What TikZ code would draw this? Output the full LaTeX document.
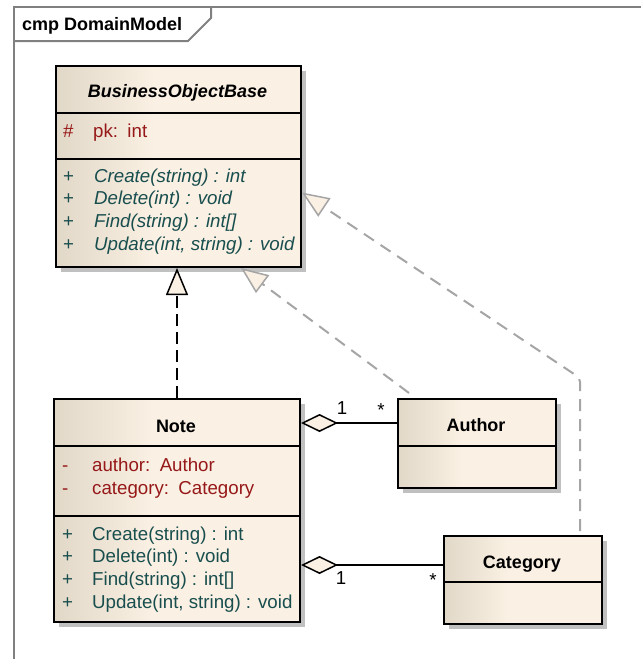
\documentclass[tikz,border=0pt]{standalone}
\usepackage{fontspec}
\setmainfont{Liberation Sans}
\usepackage{tikz}
\usetikzlibrary{arrows.meta, positioning, shadows}
\usepackage{xcolor}

\definecolor{beigedark}{RGB}{226,216,200}
\definecolor{beigelight}{RGB}{250,240,227}
\definecolor{attrred}{RGB}{150,24,24}
\definecolor{opteal}{RGB}{24,78,78}
\definecolor{framegray}{RGB}{128,128,128}
\definecolor{linkgray}{RGB}{165,165,165}
\definecolor{shadowgray}{RGB}{192,192,192}

\pgfdeclarehorizontalshading{classfill}{100bp}{color(0bp)=(beigedark); color(25bp)=(beigedark); color(45bp)=(beigelight); color(100bp)=(beigelight)}

\begin{document}
\begin{tikzpicture}[
        x=1pt, y=-1pt,
        every node/.style={font=\fontsize{18.7}{22}\selectfont, inner sep=0pt},
        classbox/.style={
          rectangle,
          draw=black,
          line width=2pt,
          shading=classfill,
          anchor=north west,
          drop shadow={shadow xshift=5pt, shadow yshift=-5pt, fill=shadowgray, opacity=1}
        },
        compline/.style={draw=black, line width=2pt},
        title/.style={anchor=base, font=\fontsize{18}{22}\selectfont\bfseries},
        attr/.style={anchor=base west, text=attrred},
        oper/.style={anchor=base west, text=opteal},
        mult/.style={anchor=base},
        realize/.style={
          draw=black,
          line width=2pt,
          dash pattern=on 12pt off 6pt,
          -{Triangle[open, length=27pt, width=22pt, fill=beigelight, line width=1.5pt]}
        },
        inherit/.style={
          draw=linkgray,
          line width=2pt,
          dash pattern=on 12pt off 8pt,
          -{Triangle[open, length=27pt, width=22pt, fill=beigelight, line width=1.5pt]}
        },
        aggr/.style={
          draw=black,
          line width=2pt,
          {Diamond[open, length=37pt, width=18pt, fill=beigelight, line width=1.5pt]}-
        }
      ]

      \useasboundingbox (0,0) rectangle (641,659);

      % Frame
      \draw[framegray, line width=2pt] (14,659) -- (14,7) -- (641,7);
      \draw[framegray, line width=2pt] (14,41) -- (188,41) -- (211,18) -- (211,7);
      \node[anchor=base west, font=\fontsize{18}{22}\selectfont\bfseries] (frametitle) at (22,30.5) {cmp DomainModel};

      % Classes
      \node[classbox, minimum width=245pt, minimum height=201pt] (bob) at (55,65) {};
      \node[classbox, minimum width=246pt, minimum height=223pt] (note) at (53,398) {};
      \node[classbox, minimum width=158pt, minimum height=89pt] (author) at (397,398) {};
      \node[classbox, minimum width=158pt, minimum height=88pt] (category) at (443,535) {};

      % Compartments
      \draw[compline] (55,113) -- (300,113);
      \draw[compline] (55,159) -- (300,159);
      \draw[compline] (53,446) -- (299,446);
      \draw[compline] (53,516) -- (299,516);
      \draw[compline] (397,446) -- (555,446);
      \draw[compline] (443,582) -- (601,582);

      % BusinessObjectBase
      \node[title, font=\fontsize{18}{22}\selectfont\bfseries\itshape] (bobname) at (177.5,97) {BusinessObjectBase};
      \node[attr] (bobvis) at (63,137) {\#};
      \node[attr] (bobpk) at (93,137) {pk:\hspace{0.5em}int};
      \node[oper] (bobplusa) at (63,182) {+};
      \node[oper, font=\fontsize{18.7}{22}\selectfont\itshape] (bobopa) at (94,182) {Create(string) : int};
      \node[oper] (bobplusb) at (63,204.7) {+};
      \node[oper, font=\fontsize{18.7}{22}\selectfont\itshape] (bobopb) at (94,204.7) {Delete(int) : void};
      \node[oper] (bobplusc) at (63,227.3) {+};
      \node[oper, font=\fontsize{18.7}{22}\selectfont\itshape] (bobopc) at (94,227.3) {Find(string) : int[]};
      \node[oper] (bobplusd) at (63,250) {+};
      \node[oper, font=\fontsize{18.7}{22}\selectfont\itshape] (bobopd) at (94,250) {Update(int, string) : void};

      % Note
      \node[title] (notename) at (176,432) {Note};
      \node[attr] (notevisa) at (62,471) {-};
      \node[attr] (noteauthor) at (92,471) {author:\hspace{0.5em}Author};
      \node[attr] (notevisb) at (62,494) {-};
      \node[attr] (notecategory) at (92,494) {category:\hspace{0.5em}Category};
      \node[oper] (noteplusa) at (62,540) {+};
      \node[oper] (noteopa) at (92,540) {Create(string) : int};
      \node[oper] (noteplusb) at (62,562) {+};
      \node[oper] (noteopb) at (92,562) {Delete(int) : void};
      \node[oper] (noteplusc) at (62,585) {+};
      \node[oper] (noteopc) at (92,585) {Find(string) : int[]};
      \node[oper] (noteplusd) at (62,608) {+};
      \node[oper] (noteopd) at (92,608) {Update(int, string) : void};

      % Author and Category
      \node[title] (authorname) at (476,431) {Author};
      \node[title] (categoryname) at (522,568) {Category};

      % Realizations
      \draw[realize] (note.north) -- (note.north |- bob.south);
      \draw[inherit] ([shift={(12pt,5pt)}]author.north west) -- ([xshift=-61pt]bob.south east);
      \coordinate (catup) at ([xshift=57pt]category.north);
      \draw[inherit, rounded corners=4pt, shorten <=4pt] (catup) -- (catup |- 0,378) -- ([yshift=-26pt]bob.east);

      % Aggregations
      \coordinate (authin) at ([yshift=-25pt]author.north west);
      \draw[aggr] (note.east |- authin) -- (authin);
      \coordinate (catin) at ([yshift=-30pt]category.north west);
      \draw[aggr] (note.east |- catin) -- (catin);

      % Multiplicities
      \node[mult] (authone) at (342,414.5) {1};
      \node[mult] (authmany) at (381,416) {*};
      \node[mult] (catone) at (341,584.5) {1};
      \node[mult] (catmany) at (433,586) {*};

    \end{tikzpicture}
\end{document}
